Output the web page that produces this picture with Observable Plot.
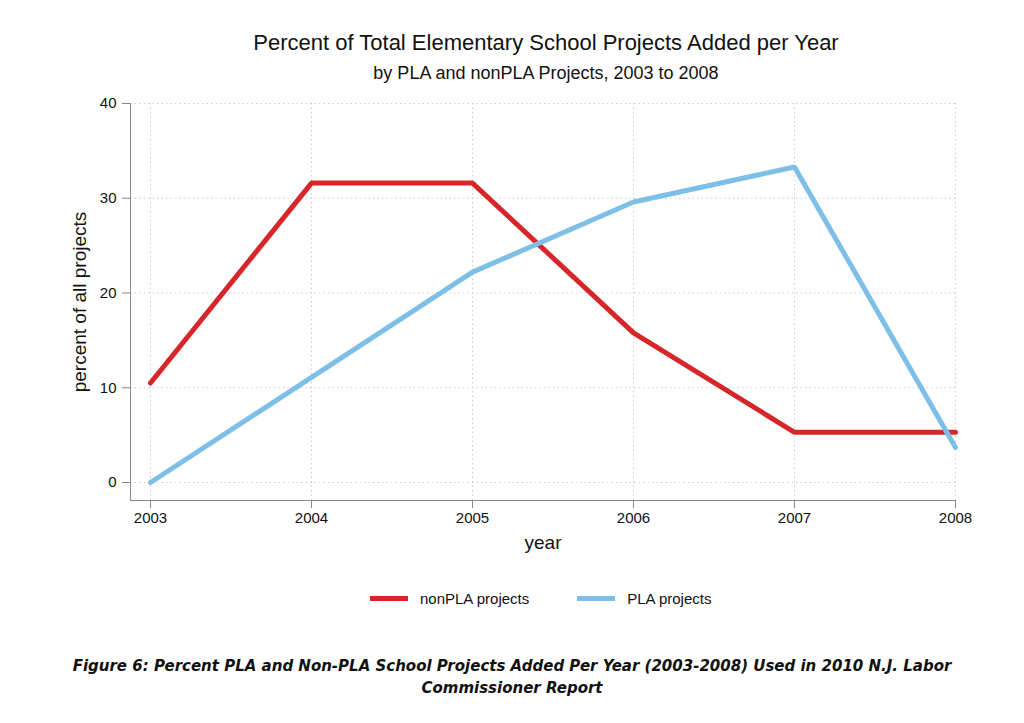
<!DOCTYPE html>
<html><head><meta charset="utf-8">
<script src="https://cdn.jsdelivr.net/npm/d3@7"></script>
<script src="https://cdn.jsdelivr.net/npm/@observablehq/plot@0.6"></script>
<style>
body{margin:0;background:#fff;font-family:"Liberation Sans",Arial,sans-serif;}
#wrap{position:relative;width:1024px;height:723px;}
.t{position:absolute;left:0;width:1024px;text-align:center;color:#111;}
</style></head><body>
<div id="wrap">
<div class="t" style="top:30px;font-size:22px;left:34px;">Percent of Total Elementary School Projects Added per Year</div>
<div class="t" style="top:63px;font-size:18px;left:34px;">by PLA and nonPLA Projects, 2003 to 2008</div>
<div id="chart" style="position:absolute;top:0;left:0;"></div>
<div style="position:absolute;top:590px;left:370px;font-size:15px;color:#111;display:flex;align-items:center;">
<span style="display:inline-block;width:38px;height:5px;background:#d7262a;margin-right:12px;"></span>nonPLA projects
<span style="display:inline-block;width:38px;height:5px;background:#7dbfe6;margin:0 12px 0 48px;"></span>PLA projects
</div>
<div class="t" style="top:655px;font-size:15px;font-weight:bold;font-style:italic;font-family:'DejaVu Sans';line-height:22px;">Figure 6: Percent PLA and Non-PLA School Projects Added Per Year (2003-2008) Used in 2010 N.J. Labor<br>Commissioner Report</div>
</div>
<script>
const years=[2003,2004,2005,2006,2007,2008];
const nonPLA=[10.5,31.6,31.6,15.8,5.3,5.3];
const PLA=[0,11.1,22.2,29.6,33.3,3.7];
const yTicks=[0,10,20,30,40];
const data=[...years.map((y,i)=>({year:y,v:nonPLA[i],s:"nonPLA projects"})),...years.map((y,i)=>({year:y,v:PLA[i],s:"PLA projects"}))];
const p=Plot.plot({
 width:1024,height:560,marginTop:103,marginBottom:60,marginLeft:130,marginRight:69,
 style:{fontSize:"15px",fontFamily:"Liberation Sans, Arial, sans-serif",color:"#111"},
 x:{domain:[2003,2008],insetLeft:20,label:null},
 y:{domain:[0,40],insetBottom:18,label:null},
 color:{domain:["nonPLA projects","PLA projects"],range:["#d7262a","#7dbfe6"]},
 marks:[
  Plot.gridX(years,{stroke:"#ccc",strokeOpacity:1,strokeDasharray:"1.5,3"}),
  Plot.gridY(yTicks,{stroke:"#ccc",strokeOpacity:1,strokeDasharray:"1.5,3"}),
  Plot.frame({anchor:"left",stroke:"#888"}),
  Plot.frame({anchor:"bottom",stroke:"#888"}),
  Plot.axisX(years,{tickFormat:d=>String(d),tickSize:8,tickPadding:4,stroke:"#888",label:"year",labelAnchor:"center",labelArrow:"none",labelOffset:48,fontSize:15}),
  Plot.axisY(yTicks,{tickSize:8,tickPadding:6,stroke:"#888",label:"percent of all projects",labelAnchor:"center",labelArrow:"none",labelOffset:58,fontSize:15}),
  Plot.line(data,{x:"year",y:"v",z:"s",stroke:"s",strokeWidth:5,strokeLinejoin:"miter"})
 ]
});
p.querySelectorAll("[aria-label$='axis label'] text, [aria-label$='axis label']").forEach(e=>e.setAttribute("font-size","19"));
document.getElementById("chart").appendChild(p);
</script>
</body></html>
